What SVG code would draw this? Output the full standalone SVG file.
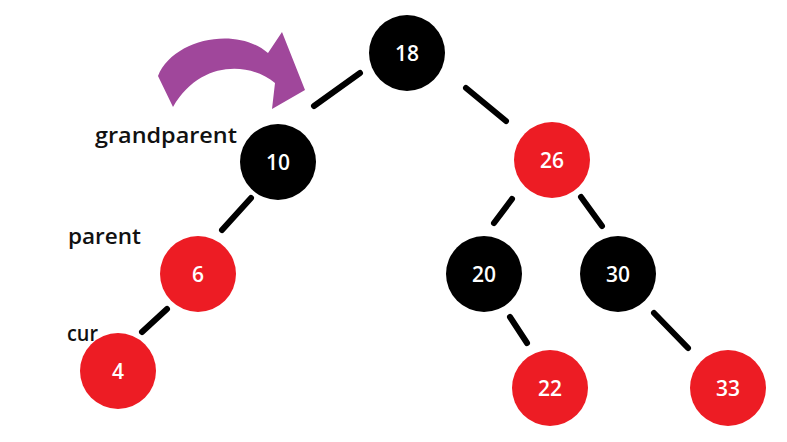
<svg xmlns="http://www.w3.org/2000/svg" width="787" height="442" viewBox="0 0 787 442">
<style>
.blk{fill:#000}
.red{fill:#ED1C24}
.num{fill:#fff;font-family:"Open Sans","Noto Sans",sans-serif;font-size:21px;font-weight:600;text-anchor:middle;dominant-baseline:central}
.lbl{fill:#111;font-family:"Open Sans","Noto Sans",sans-serif;font-size:22px;font-weight:600}
.edge{stroke:#000;stroke-width:6;stroke-linecap:round;fill:none}
</style>
<rect width="787" height="442" fill="#fff"/>
<path d="M158,76 C172,40 235,25 268,53 L282,32 L305,90 L272,109 L275,83 C250,62 200,60 173,107 Z" fill="#A0479B"/>
<g id="connectors">
<line class="edge" x1="360" y1="73" x2="314" y2="106"/>
<line class="edge" x1="466" y1="88" x2="506" y2="121"/>
<line class="edge" x1="251" y1="198" x2="222" y2="230"/>
<line class="edge" x1="167" y1="309" x2="142" y2="332"/>
<line class="edge" x1="512" y1="199" x2="494" y2="223"/>
<line class="edge" x1="581" y1="197" x2="602" y2="226"/>
<line class="edge" x1="510" y1="317" x2="527" y2="343"/>
<line class="edge" x1="654" y1="313" x2="688" y2="348"/>
</g>
<g id="n18"><circle class="blk" cx="407" cy="53" r="38"/><text class="num" x="407" y="53">18</text></g>
<g id="n10"><circle class="blk" cx="278" cy="162" r="38"/><text class="num" x="278" y="162">10</text></g>
<g id="n26"><circle class="red" cx="552" cy="160" r="38"/><text class="num" x="552" y="160">26</text></g>
<g id="n6"><circle class="red" cx="198" cy="274" r="38"/><text class="num" x="198" y="274">6</text></g>
<g id="n4"><circle class="red" cx="118" cy="371" r="38"/><text class="num" x="118" y="371">4</text></g>
<g id="n20"><circle class="blk" cx="484" cy="274" r="38"/><text class="num" x="484" y="274">20</text></g>
<g id="n30"><circle class="blk" cx="618" cy="274" r="38"/><text class="num" x="618" y="274">30</text></g>
<g id="n22"><circle class="red" cx="550" cy="388" r="38"/><text class="num" x="550" y="388">22</text></g>
<g id="n33"><circle class="red" cx="728" cy="388" r="38"/><text class="num" x="728" y="388">33</text></g>
<g id="labels">
<text class="lbl" x="95" y="143" textLength="142" lengthAdjust="spacingAndGlyphs">grandparent</text>
<text class="lbl" x="68" y="244" textLength="73" lengthAdjust="spacingAndGlyphs">parent</text>
<text class="lbl" x="67" y="341" textLength="31" lengthAdjust="spacingAndGlyphs">cur</text>
</g>
</svg>
